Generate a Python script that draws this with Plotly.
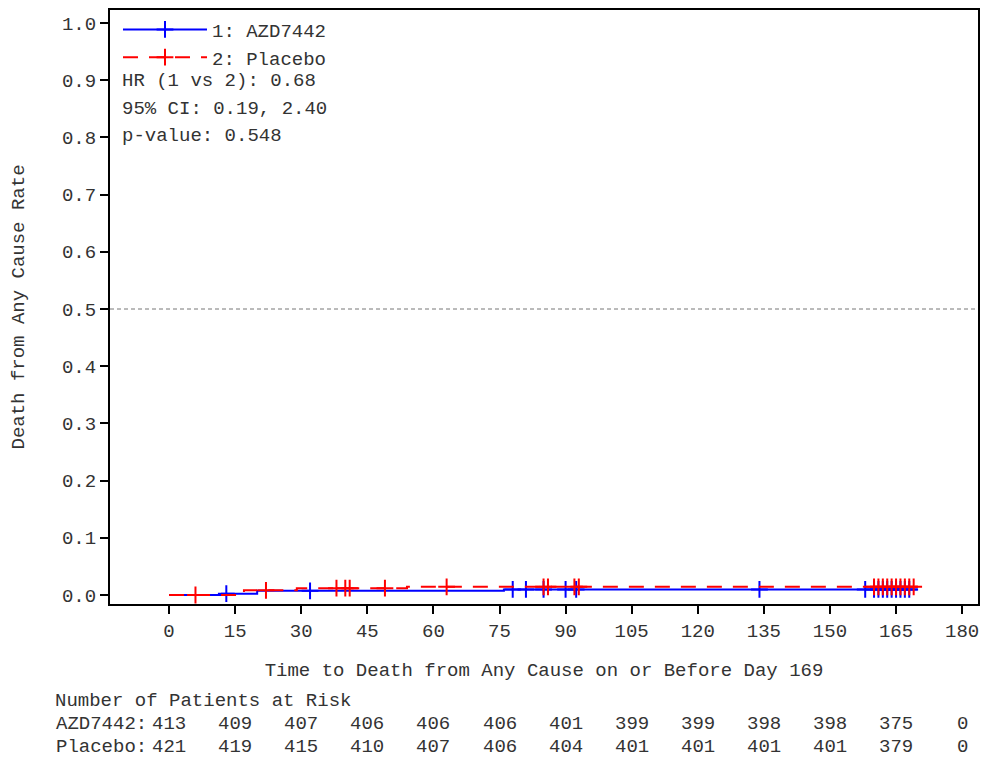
import plotly.graph_objects as go

# ---------------- data ----------------
azd_event_days = [0, 12, 20, 76, 170]
azd_event_rate = [0.0, 0.0024, 0.0073, 0.0097, 0.0097]
azd_censor_days = [13, 32, 78, 81, 85, 90, 92.4, 134, 158,
                   160, 161, 162, 163, 164, 165, 166, 167, 168]

pbo_event_days = [0, 17, 29, 54, 170]
pbo_event_rate = [0.0, 0.0082, 0.0119, 0.0143, 0.0143]
pbo_censor_days = [6, 22, 38, 40, 41, 49, 63, 85, 86, 92, 93,
                   160, 161, 162, 163, 164, 165, 166, 167, 168, 169]

risk_days = [0, 15, 30, 45, 60, 75, 90, 105, 120, 135, 150, 165, 180]
azd_at_risk = [413, 409, 407, 406, 406, 406, 401, 399, 399, 398, 398, 375, 0]
pbo_at_risk = [421, 419, 415, 410, 407, 406, 404, 401, 401, 401, 401, 379, 0]

x_ticks = list(range(0, 181, 15))
y_ticks = [i / 10 for i in range(11)]

stats_lines = ["HR (1 vs 2): 0.68", "95% CI: 0.19, 2.40", "p-value: 0.548"]

FONT = "Liberation Mono, Courier New, monospace"
TXT = "#333333"


def rate_at(days, rates, t):
    r = rates[0]
    for d, v in zip(days, rates):
        if d <= t:
            r = v
    return r


fig = go.Figure()

series = [
    ("1: AZD7442", azd_event_days, azd_event_rate, azd_censor_days, "#0000FF", "solid"),
    ("2: Placebo", pbo_event_days, pbo_event_rate, pbo_censor_days, "#FF0000", "15px,11px"),
]

for name, d, r, c, col, dash in series:
    fig.add_trace(go.Scatter(
        x=d, y=r, mode="lines", line=dict(color=col, width=2, dash=dash, shape="hv"),
        name=name, legendgroup=name, showlegend=False, hoverinfo="skip"))
    fig.add_trace(go.Scatter(
        x=c, y=[rate_at(d, r, t) for t in c], mode="markers",
        marker=dict(symbol="cross-thin", size=12, line=dict(color=col, width=2), color=col),
        name=name, legendgroup=name, showlegend=False, hoverinfo="skip"))
    # legend entry (line + marker)
    fig.add_trace(go.Scatter(
        x=[None], y=[None], mode="lines+markers",
        line=dict(color=col, width=2, dash=dash),
        marker=dict(symbol="cross-thin", size=12, line=dict(color=col, width=2), color=col),
        name=name, legendgroup=name, showlegend=True))

# reference line at 0.5
fig.add_shape(type="line", xref="paper", yref="y", x0=0, x1=1, y0=0.5, y1=0.5,
              line=dict(color="#777777", width=1, dash="4px,3px"))

# stats text
for i, s in enumerate(stats_lines):
    fig.add_annotation(xref="paper", yref="paper", x=0.013, y=0.8805 - i * 0.0465,
                       text=s, showarrow=False, xanchor="left", yanchor="middle",
                       borderpad=0, font=dict(family=FONT, size=19, color=TXT))

# at-risk table
fig.add_annotation(xref="paper", yref="paper", x=-0.0645, y=-0.1633,
                   text="Number of Patients at Risk", showarrow=False, borderpad=0,
                   xanchor="left", yanchor="middle", font=dict(family=FONT, size=19, color=TXT))
for lbl, vals, yy in [("AZD7442:", azd_at_risk, -0.2020), ("Placebo:", pbo_at_risk, -0.2407)]:
    fig.add_annotation(xref="paper", yref="paper", x=0.0435, y=yy, text=lbl,
                       showarrow=False, xanchor="right", yanchor="middle", borderpad=0,
                       font=dict(family=FONT, size=19, color=TXT))
    for dd, v in zip(risk_days, vals):
        fig.add_annotation(xref="x", yref="paper", x=dd, y=yy, text=str(v),
                           showarrow=False, xanchor="center", yanchor="middle", borderpad=0,
                           font=dict(family=FONT, size=19, color=TXT))

fig.update_xaxes(range=[-13.4, 183.6], tickvals=x_ticks, ticks="outside", ticklen=8,
                 tickwidth=1.5, tickcolor="black", showline=True, linecolor="black",
                 linewidth=2, mirror=True, showgrid=False, zeroline=False,
                 tickfont=dict(family=FONT, size=19, color=TXT),
                 title=dict(text="Time to Death from Any Cause on or Before Day 169",
                            font=dict(family=FONT, size=19, color=TXT), standoff=21))
fig.update_yaxes(range=[-0.0157, 1.0227], tickvals=y_ticks, tickformat=".1f",
                 ticks="outside", ticklen=8, tickwidth=1.5, tickcolor="black",
                 showline=True, linecolor="black", linewidth=2, mirror=True,
                 showgrid=False, zeroline=False,
                 tickfont=dict(family=FONT, size=19, color=TXT),
                 title=dict(text="Death from Any Cause Rate",
                            font=dict(family=FONT, size=19, color=TXT), standoff=32))

fig.update_layout(
    width=982, height=758, autosize=False,
    margin=dict(l=110, r=4, t=10, b=154, autoexpand=False),
    paper_bgcolor="white", plot_bgcolor="white",
    legend=dict(x=0.0092, y=0.999, xanchor="left", yanchor="top", itemwidth=84,
                bgcolor="rgba(0,0,0,0)", font=dict(family=FONT, size=19, color=TXT),
                tracegroupgap=0, itemclick=False),
)

fig.write_html("out.html", config={"displayModeBar": False},
               post_script="document.body.style.margin='0px';document.body.style.overflow='hidden';")
